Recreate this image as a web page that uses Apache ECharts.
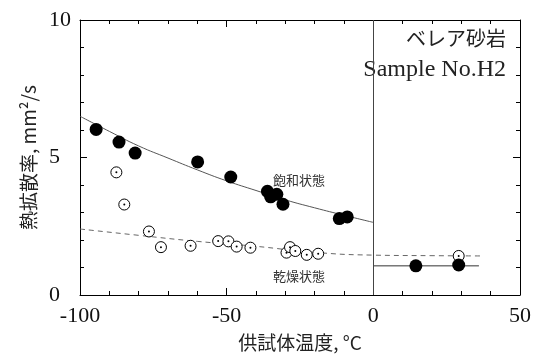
<!DOCTYPE html>
<html><head><meta charset="utf-8">
<script src="https://cdn.jsdelivr.net/npm/echarts@6/dist/echarts.min.js"></script>
<style>html,body{margin:0;padding:0;background:#fff}#c{width:537px;height:357px}</style>
</head><body><div id="c"></div>
<script>
// 飽和状態 (saturated) measured points
const satX = [-94.5,-86.7,-81.2,-59.9,-48.6,-36.1,-35.0,-32.9,-30.8,-11.6,-8.9,14.5,29.1];
const satY = [6.02,5.56,5.16,4.84,4.29,3.77,3.57,3.66,3.30,2.78,2.84,1.06,1.09];
// 乾燥状態 (dry) measured points
const dryX = [-87.6,-84.9,-76.5,-72.4,-62.3,-52.9,-49.4,-46.6,-41.9,-29.6,-28.4,-26.6,-22.7,-18.8,29.1];
const dryY = [4.46,3.29,2.31,1.74,1.79,1.96,1.95,1.76,1.72,1.54,1.74,1.60,1.46,1.50,1.42];
// fitted curve (saturated, below 0°C)
const fitX = [-100,-90,-80,-70,-60,-50,-40,-30,-20,-10,0];
const fitY = [6.5,5.95,5.42,4.98,4.55,4.15,3.8,3.46,3.17,2.9,2.64];
// fitted line (saturated, above 0°C)
const fit2X = [0,36];
const fit2Y = [1.06,1.06];
// fitted dashed curve (dry)
const dashX = [-100,-80,-60,-40,-20,0,20,37];
const dashY = [2.4,2.17,1.95,1.77,1.55,1.45,1.43,1.42];
const xTicks = [-100,-50,0,50];
const yTicks = [0,5,10];

const zip = (a,b)=>a.map((v,i)=>[v,b[i]]);
const serif = '"Liberation Serif","Noto Sans CJK JP",serif';
const cjk = '"Noto Sans CJK JP","Liberation Serif",sans-serif';

const chart = echarts.init(document.getElementById('c'), null, {renderer:'canvas'});
const axisCommon = () => ({
  axisLine:{show:true,onZero:false,lineStyle:{color:'#000',width:1}},
  axisTick:{show:true,inside:true,length:7,lineStyle:{color:'#000'}},
  minorTick:{show:true,splitNumber:5,length:4,lineStyle:{color:'#000'}},
  splitLine:{show:false}
});
chart.setOption({
  animation:false,
  grid:{left:80,right:17,top:20,bottom:58,show:false},
  xAxis:[
    Object.assign({type:'value',min:xTicks[0],max:xTicks[xTicks.length-1],interval:50,position:'bottom',
      name:'供試体温度, °C',nameLocation:'middle',nameGap:38,
      nameTextStyle:{fontFamily:cjk,fontSize:19,color:'#222'},
      axisLabel:{margin:10,fontFamily:serif,fontSize:22,color:'#111'}},axisCommon()),
    Object.assign({type:'value',min:-100,max:50,interval:50,position:'top',axisLabel:{show:false}},axisCommon())
  ],
  yAxis:[
    Object.assign({type:'value',min:yTicks[0],max:yTicks[yTicks.length-1],interval:5,position:'left',
      name:'熱拡散率, mm²/s',nameLocation:'middle',nameGap:37,nameRotate:90,
      nameTextStyle:{fontFamily:cjk,fontSize:19,color:'#222'},
      axisLabel:{margin:31,align:'left',fontFamily:serif,fontSize:22,color:'#111'}},axisCommon()),
    Object.assign({type:'value',min:0,max:10,interval:5,position:'right',axisLabel:{show:false}},axisCommon())
  ],
  series:[
    {type:'line',data:zip(fitX,fitY),smooth:true,symbol:'none',lineStyle:{color:'#555',width:1},
      markLine:{silent:true,symbol:'none',label:{show:false},lineStyle:{color:'#444',width:1,type:'solid'},data:[{xAxis:0}]}},
    {type:'line',data:zip(fit2X,fit2Y),symbol:'none',lineStyle:{color:'#333',width:1}},
    {type:'line',data:zip(dashX,dashY),smooth:true,symbol:'none',lineStyle:{color:'#666',width:1,type:[5,4]}},
    {type:'scatter',data:zip(dryX,dryY),symbol:'circle',symbolSize:11,itemStyle:{color:'#fff',borderColor:'#000',borderWidth:1,opacity:1},z:3},
    {type:'scatter',data:zip(dryX,dryY),symbol:'circle',symbolSize:2,itemStyle:{color:'#000',opacity:1},z:4},
    {type:'scatter',data:zip(satX,satY),symbol:'circle',symbolSize:13,itemStyle:{color:'#000',opacity:1},z:5}
  ],
  graphic:[
    {type:'text',left:273,top:174,style:{text:'飽和状態',font:'13px '+cjk,fill:'#333'}},
    {type:'text',left:273,top:270,style:{text:'乾燥状態',font:'13px '+cjk,fill:'#333'}},
    {type:'text',right:31,top:28,style:{text:'ベレア砂岩',font:'20px '+cjk,fill:'#222',align:'right'}},
    {type:'text',right:31,top:58,style:{text:'Sample No.H2',font:'24px '+serif,fill:'#222',align:'right'}}
  ]
});
</script></body></html>
